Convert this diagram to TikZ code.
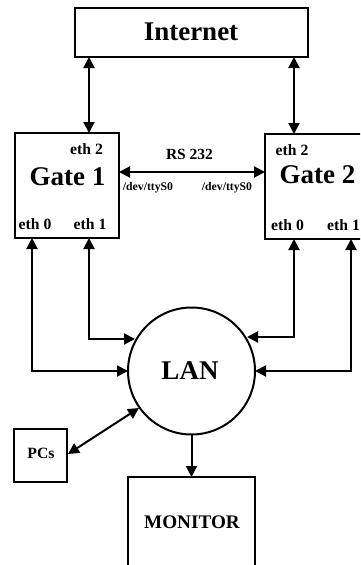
\documentclass[tikz,border=0pt]{standalone}
\usepackage{fontspec}
\setmainfont{Liberation Serif}
\usetikzlibrary{arrows.meta,calc}
\tikzset{
  box/.style={draw=black,line width=2pt,fill=white,inner sep=0pt,outer sep=0pt,anchor=north west},
  lan/.style={draw=black,line width=2pt,fill=white,circle,inner sep=0pt,outer sep=0pt,minimum size=127pt},
  wire/.style={line width=2pt,draw=black,-{Triangle[length=11pt,width=11pt]}},
  dwire/.style={line width=2pt,draw=black,{Triangle[length=11pt,width=11pt]}-{Triangle[length=11pt,width=11pt]}},
  lbl/.style={font=\bfseries,inner sep=0pt,outer sep=0pt,text=black},
}
\newcommand{\fs}[1]{\fontsize{#1}{#1}\selectfont}
\begin{document}
\begin{tikzpicture}[x=1pt,y=-1pt]
\useasboundingbox (0,0) rectangle (360,565);
\clip (0,0) rectangle (360,565);
% boxes
\node[box,minimum width=233pt,minimum height=49pt] (inet) at (75,8) {};
\node[box,minimum width=104pt,minimum height=105pt] (g1) at (15,133) {};
\node[box,minimum width=102pt,minimum height=105pt] (g2) at (265,134) {};
\node[lan] (lan) at (191.5,371) {};
\node[box,minimum width=53pt,minimum height=53pt] (pcs) at (14,429) {};
\node[box,minimum width=127pt,minimum height=95pt] (mon) at (128,477) {};
% texts
\node[lbl,font=\bfseries\fs{27}] (tinet) at (191,32) {Internet};
\node[lbl,font=\bfseries\fs{27}] (tg1) at (67.5,177) {Gate 1};
\node[lbl,font=\bfseries\fs{27}] (tg2) at (317.5,175) {Gate 2};
\node[lbl,font=\bfseries\fs{27}] (tlan) at (190,371) {LAN};
\node[lbl,font=\bfseries\fs{19.2}] (tmon) at (192,522) {MONITOR};
\node[lbl,font=\bfseries\fs{15.7}] (tpcs) at (41,453) {PCs};
\node[lbl,font=\bfseries\fs{15.7}] (e12) at (86.5,149.5) {eth 2};
\node[lbl,font=\bfseries\fs{15.7}] (e10) at (35,224.5) {eth 0};
\node[lbl,font=\bfseries\fs{15.7}] (e11) at (90,224.5) {eth 1};
\node[lbl,font=\bfseries\fs{15.7}] (e22) at (292,150) {eth 2};
\node[lbl,font=\bfseries\fs{15.7}] (e20) at (287.5,225) {eth 0};
\node[lbl,font=\bfseries\fs{15.7}] (e21) at (343.5,225) {eth 1};
\node[lbl,font=\bfseries\fs{15.5}] (trs) at (189.5,154.5) {RS 232};
\node[lbl,font=\bfseries\fs{11.7}] (tty1) at (148,188) {/dev/ttyS0};
\node[lbl,font=\bfseries\fs{11.7}] (tty2) at (227,188) {/dev/ttyS0};
% connector anchors
\coordinate (i1) at (inet.south -| 89,0);
\coordinate (i2) at (inet.south -| 294,0);
\coordinate (g1t) at (g1.north -| 89,0);
\coordinate (g2t) at (g2.north -| 294,0);
\coordinate (rs1) at (g1.east |- 0,172);
\coordinate (rs2) at (g2.west |- 0,172);
\coordinate (g1a) at (g1.south -| 32,0);
\coordinate (g1b) at (g1.south -| 89,0);
\coordinate (g2a) at (g2.south -| 294,0);
\coordinate (g2b) at (g2.south -| 351,0);
\coordinate (la) at (lan.west);
\coordinate (lb) at (135,339);
\coordinate (lc) at (247,337);
\coordinate (ld) at (lan.east);
\coordinate (pa) at (68,454);
\coordinate (pb) at (139,408);
% connectors
\draw[dwire] (i1) -- (g1t);
\draw[dwire] (i2) -- (g2t);
\draw[dwire] (rs1) -- (rs2);
\draw[dwire] (g1a) |- (la);
\draw[dwire] (g1b) |- (lb);
\draw[dwire] (g2a) |- (lc);
\draw[dwire] (g2b) |- (ld);
\draw[dwire] (pa) -- (pb);
\draw[wire] (lan.south) -- (mon.north);
\end{tikzpicture}
\end{document}
